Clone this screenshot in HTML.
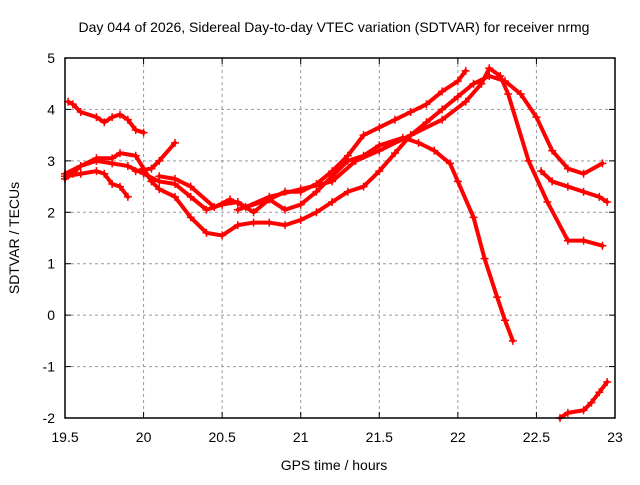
<!DOCTYPE html>
<html><head><meta charset="utf-8"><style>
body{margin:0;background:#fff;}
svg text{font-family:"Liberation Sans",sans-serif;font-size:14px;fill:#000;}
</style></head><body>
<svg id="chart" width="640" height="480" xmlns="http://www.w3.org/2000/svg">
<rect width="640" height="480" fill="#fff"/>
<g id="grid"></g><g id="series"></g><g id="axes"></g>
<text x="334" y="32" text-anchor="middle">Day 044 of 2026, Sidereal Day-to-day VTEC variation (SDTVAR) for receiver nrmg</text>
<text x="334" y="470" text-anchor="middle">GPS time / hours</text>
<text transform="translate(19,238) rotate(-90)" text-anchor="middle">SDTVAR / TECUs</text>
</svg>
<script>
const xTicks=[19.5,20,20.5,21,21.5,22,22.5,23];
const xTickLabels=["19.5","20","20.5","21","21.5","22","22.5","23"];
const yTicks=[-2,-1,0,1,2,3,4,5];
const yTickLabels=["-2","-1","0","1","2","3","4","5"];
const track1=[[19.52,4.15],[19.55,4.1],[19.6,3.95],[19.7,3.85],[19.75,3.75],[19.8,3.85],[19.85,3.9],[19.9,3.8],[19.95,3.6],[20.0,3.55]];
const track2=[[19.5,2.7],[19.6,2.75],[19.7,2.8],[19.75,2.75],[19.8,2.55],[19.85,2.5],[19.9,2.3]];
const track3=[[19.5,2.65],[19.55,2.75],[19.6,2.9],[19.7,3.05],[19.8,3.05],[19.85,3.15],[19.95,3.1],[20.0,2.85],[20.05,2.6],[20.1,2.45],[20.2,2.3],[20.3,1.9],[20.4,1.6],[20.5,1.55],[20.6,1.75],[20.7,1.8],[20.8,1.8],[20.9,1.75],[21.0,1.85],[21.1,2.0],[21.2,2.2],[21.3,2.4],[21.4,2.5],[21.5,2.8],[21.6,3.15],[21.7,3.5],[21.8,3.75],[21.9,4.0],[22.0,4.25],[22.1,4.5],[22.2,4.65],[22.3,4.55],[22.4,4.3],[22.5,3.85],[22.6,3.2],[22.7,2.85],[22.8,2.75],[22.92,2.95]];
const track4=[[19.5,2.75],[19.6,2.9],[19.7,3.0],[19.8,2.95],[19.9,2.9],[20.0,2.75],[20.1,2.6],[20.2,2.55],[20.3,2.3],[20.4,2.05],[20.5,2.15],[20.6,2.2],[20.7,2.0],[20.8,2.25],[20.9,2.05],[21.0,2.15],[21.1,2.4],[21.2,2.7],[21.3,3.0],[21.4,3.1],[21.5,3.3],[21.65,3.45],[21.75,3.35],[21.85,3.2],[21.95,2.95],[22.0,2.6],[22.1,1.9],[22.17,1.1],[22.25,0.35],[22.3,-0.1],[22.35,-0.5]];
const track5=[[19.95,2.8],[20.05,2.85],[20.1,3.0],[20.2,3.35]];
const track6=[[20.1,2.7],[20.2,2.65],[20.3,2.5],[20.45,2.1],[20.55,2.25],[20.65,2.1],[20.8,2.3],[21.0,2.45],[21.2,2.6],[21.35,3.0],[21.5,3.2],[21.7,3.5],[21.9,3.8],[22.05,4.15],[22.15,4.5],[22.2,4.8],[22.27,4.65],[22.32,4.3],[22.45,3.0],[22.57,2.2],[22.7,1.45],[22.8,1.45],[22.92,1.35]];
const track7=[[20.6,2.05],[20.8,2.25],[20.9,2.4],[21.0,2.4],[21.1,2.55],[21.2,2.8],[21.3,3.1],[21.4,3.5],[21.5,3.65],[21.6,3.8],[21.7,3.95],[21.8,4.1],[21.9,4.35],[22.0,4.55],[22.05,4.75]];
const track8=[[22.53,2.8],[22.6,2.6],[22.7,2.5],[22.8,2.4],[22.9,2.3],[22.95,2.2]];
const track9=[[22.65,-2.0],[22.7,-1.9],[22.8,-1.85],[22.85,-1.7],[22.9,-1.5],[22.95,-1.3]];
const tracks=[track1,track2,track3,track4,track5,track6,track7,track8,track9];
const L=65,R=615,T=58,B=418;
const xs=v=>L+(v-19.5)/3.5*(R-L);
const ys=v=>B-(v+2)/7*(B-T);
const NS="http://www.w3.org/2000/svg";
function mk(tag,attrs,parent){const e=document.createElementNS(NS,tag);for(const k in attrs)e.setAttribute(k,attrs[k]);parent.appendChild(e);return e;}
const grid=document.getElementById('grid'),axes=document.getElementById('axes'),ser=document.getElementById('series');
xTicks.forEach((t,i)=>{const x=xs(t);
 if(i>0&&i<xTicks.length-1){const g=mk('line',{x1:x,x2:x,y1:T,y2:B,stroke:'#999','stroke-dasharray':'3,3'},grid);
 
 }
 mk('line',{x1:x,x2:x,y1:B,y2:B-6,stroke:'#000'},axes);mk('line',{x1:x,x2:x,y1:T,y2:T+6,stroke:'#000'},axes);
 const tx=mk('text',{x:x,y:B+24,'text-anchor':'middle'},axes);tx.textContent=xTickLabels[i];
 
 });
yTicks.forEach((t,i)=>{const y=ys(t);
 if(i>0&&i<yTicks.length-1){const g=mk('line',{x1:L,x2:R,y1:y,y2:y,stroke:'#999','stroke-dasharray':'3,3'},grid);
 
 }
 mk('line',{x1:L,x2:L+6,y1:y,y2:y,stroke:'#000'},axes);mk('line',{x1:R,x2:R-6,y1:y,y2:y,stroke:'#000'},axes);
 const tx=mk('text',{x:L-10,y:y+5,'text-anchor':'end'},axes);tx.textContent=yTickLabels[i];
 
 });
const frame=mk('rect',{x:L,y:T,width:R-L,height:B-T,fill:'none',stroke:'#000','stroke-width':1.5},axes);


tracks.forEach(tr=>{
 const g=mk('g',{},ser);
 
 
 mk('polyline',{points:tr.map(p=>xs(p[0])+','+ys(p[1])).join(' '),fill:'none',stroke:'#f00','stroke-width':4,'stroke-linejoin':'round','stroke-linecap':'round'},g);
 tr.forEach(p=>{const x=xs(p[0]),y=ys(p[1]);
  const m=mk('path',{d:`M${x-4},${y}h8M${x},${y-4}v8`,stroke:'#f00','stroke-width':1.5},g);
  
  });
});
</script>
</body></html>
